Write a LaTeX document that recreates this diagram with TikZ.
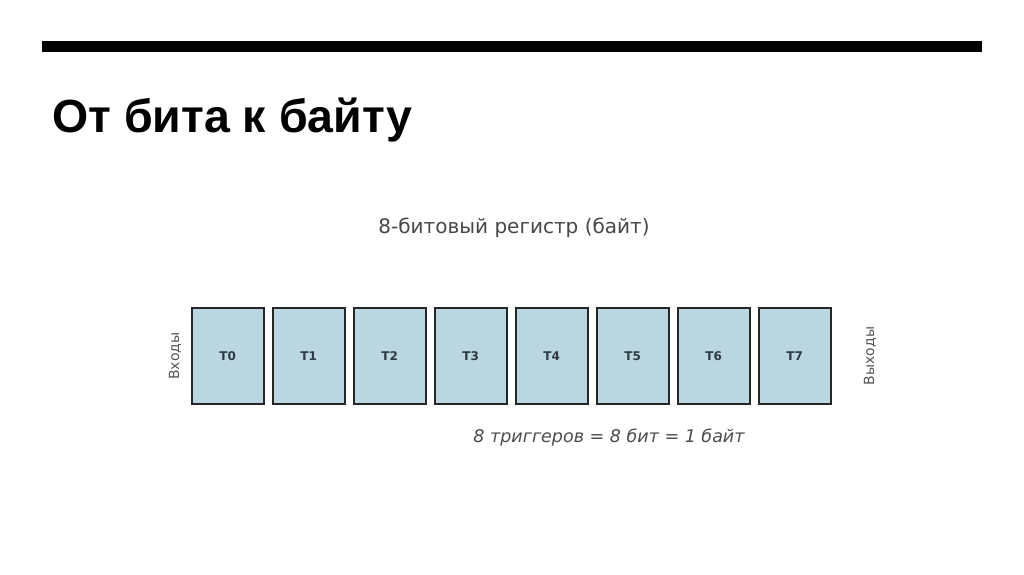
\documentclass[tikz,border=0pt]{standalone}
\usepackage{fontspec}
\setmainfont{DejaVu Sans}
\newfontfamily\titlefont{Liberation Sans}
\begin{document}
\begin{tikzpicture}[x=1pt,y=-1pt,
  trig/.style={draw=black!85, line width=1.5pt, fill=lightcell, minimum width=72pt, minimum height=96pt, inner sep=0pt, anchor=north west, font=\fontsize{12}{14}\selectfont\bfseries, text=labeltext},
  side/.style={text=sidegray, font=\fontsize{14}{16}\selectfont, rotate=90}]
\definecolor{lightcell}{HTML}{BAD6E1}
\definecolor{labeltext}{HTML}{2E3A44}
\definecolor{sidegray}{HTML}{555555}
\useasboundingbox (0,0) rectangle (1024,574);
\fill[white] (0,0) rectangle (1024,574);
\fill[black] (42,41) rectangle (982,52);
\node[anchor=base west, inner sep=0pt, font=\titlefont\fontsize{46.5}{52}\selectfont\bfseries] (title) at (52,132) {От бита к байту};
\node[text=black!72, font=\fontsize{20}{24}\selectfont] (head) at (514,228) {8-битовый регистр (байт)};
\foreach \i in {0,...,7} {
  \node[trig] (t\i) at (191+81*\i,307) {T\i};
}
\node[side] (in) at (175,356) {Входы};
\node[side] (out) at (870,356) {Выходы};
\node[text=black!70, font=\fontsize{17.5}{21}\selectfont\itshape] (eq) at (609,438) {8 триггеров = 8 бит = 1 байт};
\end{tikzpicture}
\end{document}
